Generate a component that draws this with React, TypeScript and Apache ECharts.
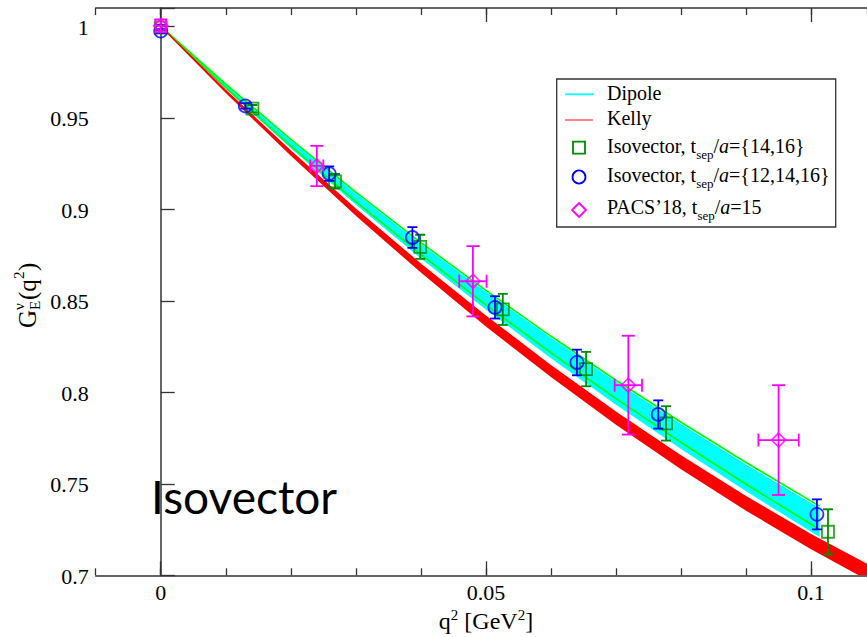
import React, { useEffect, useRef } from 'react';
import * as echarts from 'echarts';

// ---------- data ----------
const Q_KELLY = [0, 0.01, 0.02, 0.03, 0.04, 0.05, 0.06, 0.07, 0.08, 0.09, 0.1, 0.11];
const KELLY_UPPER = [1.0005, 0.9655, 0.9322, 0.9005, 0.8704, 0.842, 0.8149, 0.7895, 0.7656, 0.7433, 0.7226, 0.7036];
const KELLY_LOWER = [0.9995, 0.9635, 0.9292, 0.8965, 0.8654, 0.836, 0.8083, 0.7823, 0.758, 0.7353, 0.7142, 0.6948];

const Q_DIPOLE = [0, 0.01, 0.02, 0.03, 0.04, 0.05, 0.06, 0.07, 0.08, 0.09, 0.1, 0.1013];
const DIPOLE_UPPER = [1, 0.968, 0.9377, 0.9088, 0.8811, 0.8549, 0.8298, 0.8057, 0.7827, 0.7606, 0.7395, 0.7368];
const DIPOLE_LOWER = [1, 0.96581, 0.93335, 0.9025, 0.87315, 0.84521, 0.8186, 0.79321, 0.76899, 0.74587, 0.72376, 0.72097];
const FIT_UPPER = [1, 0.96836, 0.93819, 0.90941, 0.88179, 0.85569, 0.83061, 0.8066, 0.78362, 0.76161, 0.74051, 0.73783];
const FIT_LOWER = [1, 0.96645, 0.93455, 0.90421, 0.87532, 0.8478, 0.82155, 0.79651, 0.77259, 0.74973, 0.72787, 0.7251];

// Isovector, tsep/a={14,16}
const ISO2_Q = [0, 0.0141, 0.0268, 0.0399, 0.0526, 0.0654, 0.0777, 0.1026];
const ISO2_V = [0.9993, 0.955, 0.9153, 0.8795, 0.8453, 0.8127, 0.783, 0.7238];
const ISO2_E = [0.0015, 0.002, 0.004, 0.0066, 0.0085, 0.0094, 0.0094, 0.0123];

// Isovector, tsep/a={12,14,16}
const ISO3_Q = [0, 0.013, 0.0259, 0.0387, 0.0514, 0.064, 0.0765, 0.1009];
const ISO3_V = [0.9974, 0.9565, 0.9195, 0.8846, 0.8464, 0.8163, 0.7879, 0.7333];
const ISO3_E = [0.001, 0.0015, 0.004, 0.0057, 0.0061, 0.007, 0.0077, 0.0082];

// PACS'18
const PACS_Q = [0, 0.024, 0.048, 0.0719, 0.095];
const PACS_V = [1.0003, 0.9237, 0.8607, 0.8039, 0.7739];
const PACS_QE = [0.0008, 0.001, 0.0021, 0.0021, 0.0031];
const PACS_VE = [0.0035, 0.011, 0.0192, 0.027, 0.03];

// ticks
const X_MAJOR = [0, 0.05, 0.1];
const X_TICK_LABELS = ['0', '0.05', '0.1'];
const Y_MAJOR = [0.7, 0.75, 0.8, 0.85, 0.9, 0.95, 1];
const Y_TICK_LABELS = ['0.7', '0.75', '0.8', '0.85', '0.9', '0.95', '1'];

const X_MIN = -0.01, X_MAX = 0.1086, Y_MIN = 0.7, Y_MAX = 1.01;

// ---------- styles ----------
const SERIF = 'Liberation Serif';
const AXIS_COLOR = '#333';
const GREEN_DARK = '#008b00';
const GREEN_LINE = '#00ff00';
const BLUE = '#0000ff';
const MAGENTA = '#ff00ff';
const CYAN = '#00ffff';
const RED = '#ff0000';

const bandRenderer = (qs: number[], up: number[], lo: number[], color: string) =>
  (_params: any, api: any) => {
    const top = qs.map((q, i) => api.coord([q, up[i]]));
    const bot = qs.map((q, i) => api.coord([q, lo[i]])).reverse();
    return { type: 'polygon', shape: { points: top.concat(bot) }, style: { fill: color } };
  };

const errRenderer = (color: string, cap: number) => (_params: any, api: any) => {
  const x = api.value(0), y = api.value(1), dx = api.value(2), dy = api.value(3);
  const s = { stroke: color, lineWidth: 1.8 };
  const ch: any[] = [];
  if (dy > 0) {
    const a = api.coord([x, y + dy]);
    const b = api.coord([x, y - dy]);
    ch.push({ type: 'line', shape: { x1: a[0], y1: a[1], x2: b[0], y2: b[1] }, style: s });
    ch.push({ type: 'line', shape: { x1: a[0] - cap, y1: a[1], x2: a[0] + cap, y2: a[1] }, style: s });
    ch.push({ type: 'line', shape: { x1: b[0] - cap, y1: b[1], x2: b[0] + cap, y2: b[1] }, style: s });
  }
  if (dx > 0) {
    const a = api.coord([x - dx, y]);
    const b = api.coord([x + dx, y]);
    ch.push({ type: 'line', shape: { x1: a[0], y1: a[1], x2: b[0], y2: b[1] }, style: s });
    ch.push({ type: 'line', shape: { x1: a[0], y1: a[1] - cap, x2: a[0], y2: a[1] + cap }, style: s });
    ch.push({ type: 'line', shape: { x1: b[0], y1: b[1] - cap, x2: b[0], y2: b[1] + cap }, style: s });
  }
  return { type: 'group', children: ch };
};

const xAxisBase = {
  type: 'value',
  min: X_MIN,
  max: X_MAX,
  interval: 0.01,
  splitLine: { show: false },
  axisLabel: { show: false },
};

function buildOption() {
  const iso2Err = ISO2_Q.map((q, i) => [q, ISO2_V[i], 0, ISO2_E[i]]);
  const iso3Err = ISO3_Q.map((q, i) => [q, ISO3_V[i], 0, ISO3_E[i]]);
  const pacsErr = PACS_Q.map((q, i) => [q, PACS_V[i], PACS_QE[i], PACS_VE[i]]);

  const legendX = 607;
  const legendText = (y: number, text: string) => ({
    type: 'text',
    x: legendX,
    y,
    style: {
      text,
      fontFamily: SERIF,
      fontSize: 20,
      lineHeight: 30,
      fill: '#000',
      verticalAlign: 'middle',
      rich: {
        sub: { fontFamily: SERIF, fontSize: 13, lineHeight: 13, verticalAlign: 'bottom', fill: '#000' },
        it: { fontFamily: SERIF, fontSize: 20, lineHeight: 30, fontStyle: 'italic', fill: '#000' },
      },
    },
  });

  const yTitleX = 27, yTitleY = 328;
  const ytStyle = (size: number) => ({ fontFamily: SERIF, fontSize: size, fill: '#000', verticalAlign: 'middle', align: 'left' });

  return {
    animation: false,
    backgroundColor: '#fff',
    textStyle: { fontFamily: SERIF },
    grid: { left: 95.7, top: 8, right: 0, bottom: 61.7 },
    xAxis: [
      {
        ...xAxisBase,
        position: 'bottom',
        axisLine: { show: true, lineStyle: { color: AXIS_COLOR, width: 1.5 } },
        axisTick: { show: true, inside: true, length: 7, lineStyle: { color: AXIS_COLOR, width: 1.3 } },
      },
      {
        ...xAxisBase,
        position: 'bottom',
        axisLine: { show: false },
        axisTick: { show: true, inside: true, length: 14, customValues: X_MAJOR, lineStyle: { color: AXIS_COLOR, width: 1.3 } },
      },
      {
        ...xAxisBase,
        position: 'top',
        axisLine: { show: true, lineStyle: { color: AXIS_COLOR, width: 1.5 } },
        axisTick: { show: true, inside: true, length: 7, lineStyle: { color: AXIS_COLOR, width: 1.3 } },
      },
      {
        ...xAxisBase,
        position: 'top',
        axisLine: { show: false },
        axisTick: { show: true, inside: true, length: 14, customValues: X_MAJOR, lineStyle: { color: AXIS_COLOR, width: 1.3 } },
      },
    ],
    yAxis: [
      {
        type: 'value',
        min: Y_MIN,
        max: Y_MAX,
        interval: 0.05,
        position: 'left',
        splitLine: { show: false },
        axisLine: { show: true, lineStyle: { color: AXIS_COLOR, width: 1.5 } },
        axisTick: { show: true, inside: true, length: 14, lineStyle: { color: AXIS_COLOR, width: 1.3 } },
        axisLabel: { show: false },
      },
    ],
    series: [
      {
        type: 'custom', name: 'DipoleBand', clip: true, silent: true,
        data: [[0, 1]],
        renderItem: bandRenderer(Q_DIPOLE, DIPOLE_UPPER, DIPOLE_LOWER, CYAN),
        z: 1,
      },
      {
        type: 'line', name: 'FitUpper', clip: true, silent: true, showSymbol: false, symbol: 'none',
        data: Q_DIPOLE.map((q, i) => [q, FIT_UPPER[i]]),
        lineStyle: { color: GREEN_LINE, width: 1.6 }, z: 2,
      },
      {
        type: 'line', name: 'FitLower', clip: true, silent: true, showSymbol: false, symbol: 'none',
        data: Q_DIPOLE.map((q, i) => [q, FIT_LOWER[i]]),
        lineStyle: { color: GREEN_LINE, width: 1.6 }, z: 2,
      },
      {
        type: 'custom', name: 'KellyBand', clip: true, silent: true,
        data: [[0, 1]],
        renderItem: bandRenderer(Q_KELLY, KELLY_UPPER, KELLY_LOWER, RED),
        z: 3,
      },
      {
        type: 'custom', name: 'Iso2Err', clip: true, silent: true,
        data: iso2Err, encode: { x: 0, y: 1 },
        renderItem: errRenderer(GREEN_DARK, 5), z: 4,
      },
      {
        type: 'scatter', name: 'Iso2', silent: true,
        data: ISO2_Q.map((q, i) => [q, ISO2_V[i]]),
        symbol: 'rect', symbolSize: 12,
        itemStyle: { color: 'rgba(0,0,0,0)', borderColor: GREEN_DARK, borderWidth: 1.8 }, z: 5,
      },
      {
        type: 'custom', name: 'Iso3Err', clip: true, silent: true,
        data: iso3Err, encode: { x: 0, y: 1 },
        renderItem: errRenderer(BLUE, 5), z: 6,
      },
      {
        type: 'scatter', name: 'Iso3', silent: true,
        data: ISO3_Q.map((q, i) => [q, ISO3_V[i]]),
        symbol: 'circle', symbolSize: 13,
        itemStyle: { color: 'rgba(0,0,0,0)', borderColor: BLUE, borderWidth: 1.8 }, z: 7,
      },
      {
        type: 'custom', name: 'PacsErr', clip: true, silent: true,
        data: pacsErr, encode: { x: 0, y: 1 },
        renderItem: errRenderer(MAGENTA, 6.5), z: 8,
      },
      {
        type: 'scatter', name: 'PACS', silent: true,
        data: PACS_Q.map((q, i) => [q, PACS_V[i]]),
        symbol: 'diamond', symbolSize: 14,
        itemStyle: { color: 'rgba(0,0,0,0)', borderColor: MAGENTA, borderWidth: 1.8 }, z: 9,
      },
      // tick labels, placed through the axis scales
      {
        type: 'custom', name: 'xTickLabels', clip: false, silent: true,
        data: X_MAJOR.map((v, i) => [v, Y_MIN, i]), encode: { x: 0, y: 1 },
        renderItem: (_p: any, api: any) => {
          const pt = api.coord([api.value(0), api.value(1)]);
          return {
            type: 'text', x: pt[0], y: pt[1] + 6,
            style: { text: X_TICK_LABELS[api.value(2)], fontFamily: SERIF, fontSize: 22, fill: '#000', align: 'center', verticalAlign: 'top' },
          };
        },
        z: 10,
      },
      {
        type: 'custom', name: 'yTickLabels', clip: false, silent: true,
        data: Y_MAJOR.map((v, i) => [X_MIN, v, i]), encode: { x: 0, y: 1 },
        renderItem: (_p: any, api: any) => {
          const pt = api.coord([api.value(0), api.value(1)]);
          return {
            type: 'text', x: pt[0] - 7, y: pt[1] + 1,
            style: { text: Y_TICK_LABELS[api.value(2)], fontFamily: SERIF, fontSize: 22, fill: '#000', align: 'right', verticalAlign: 'middle' },
          };
        },
        z: 10,
      },
    ],
    graphic: [
      // legend box
      {
        type: 'rect', z: 100,
        shape: { x: 556.7, y: 79, width: 279, height: 148 },
        style: { fill: '#fff', stroke: AXIS_COLOR, lineWidth: 1.3 },
      },
      { type: 'line', z: 101, shape: { x1: 565, y1: 94.3, x2: 593, y2: 94.3 }, style: { stroke: CYAN, lineWidth: 1.8 } },
      { type: 'line', z: 101, shape: { x1: 565, y1: 120, x2: 593, y2: 120 }, style: { stroke: RED, lineWidth: 1.4, opacity: 0.7 } },
      { type: 'rect', z: 101, shape: { x: 573, y: 141.7, width: 12, height: 12 }, style: { fill: 'none', stroke: GREEN_DARK, lineWidth: 1.8 } },
      { type: 'circle', z: 101, shape: { cx: 579, cy: 177, r: 6.5 }, style: { fill: 'none', stroke: BLUE, lineWidth: 1.8 } },
      { type: 'polygon', z: 101, shape: { points: [[579, 203], [586, 210], [579, 217], [572, 210]] }, style: { fill: 'none', stroke: MAGENTA, lineWidth: 1.8 } },
      { ...legendText(93, 'Dipole'), z: 101 },
      { ...legendText(118, 'Kelly'), z: 101 },
      { ...legendText(146, 'Isovector, t{sub|sep}/{it|a}={14,16}'), z: 101 },
      { ...legendText(175, 'Isovector, t{sub|sep}/{it|a}={12,14,16}'), z: 101 },
      { ...legendText(207, 'PACS\u201918, t{sub|sep}/{it|a}=15'), z: 101 },
      // big label
      {
        type: 'text', z: 101, x: 151, y: 496,
        style: { text: 'Isovector', fontFamily: 'Lato', fontSize: 46, fill: '#000', verticalAlign: 'middle' },
      },
      // x-axis title
      {
        type: 'text', z: 101, x: 486, y: 621,
        style: {
          text: 'q{sup|2} [GeV{sup|2}]',
          fontFamily: SERIF, fontSize: 24, lineHeight: 28, fill: '#000', align: 'center', verticalAlign: 'middle',
          rich: { sup: { fontFamily: SERIF, fontSize: 15, lineHeight: 12, verticalAlign: 'top', fill: '#000' } },
        },
      },
      // y-axis title (rotated)
      {
        type: 'group', z: 101, x: yTitleX, y: yTitleY, rotation: Math.PI / 2,
        children: [
          { type: 'text', x: 0, y: 0, style: { ...ytStyle(25), text: 'G' } },
          { type: 'text', x: 18, y: -8, style: { ...ytStyle(15), text: '\u03bd' } },
          { type: 'text', x: 18, y: 8, style: { ...ytStyle(15), text: 'E' } },
          { type: 'text', x: 28, y: 0, style: { ...ytStyle(25), text: '(q' } },
          { type: 'text', x: 49, y: -8, style: { ...ytStyle(15), text: '2' } },
          { type: 'text', x: 57, y: 0, style: { ...ytStyle(25), text: ')' } },
        ],
      },
    ],
  };
}

export default function App() {
  const ref = useRef<HTMLDivElement>(null);
  useEffect(() => {
    document.body.style.margin = '0';
    const chart = echarts.init(ref.current!, null, { renderer: 'svg' });
    chart.setOption(buildOption() as any);
    return () => chart.dispose();
  }, []);
  return (
    <div
      ref={ref}
      style={{ position: 'absolute', left: 0, top: 0, width: 867, height: 637, background: '#fff' }}
    />
  );
}
